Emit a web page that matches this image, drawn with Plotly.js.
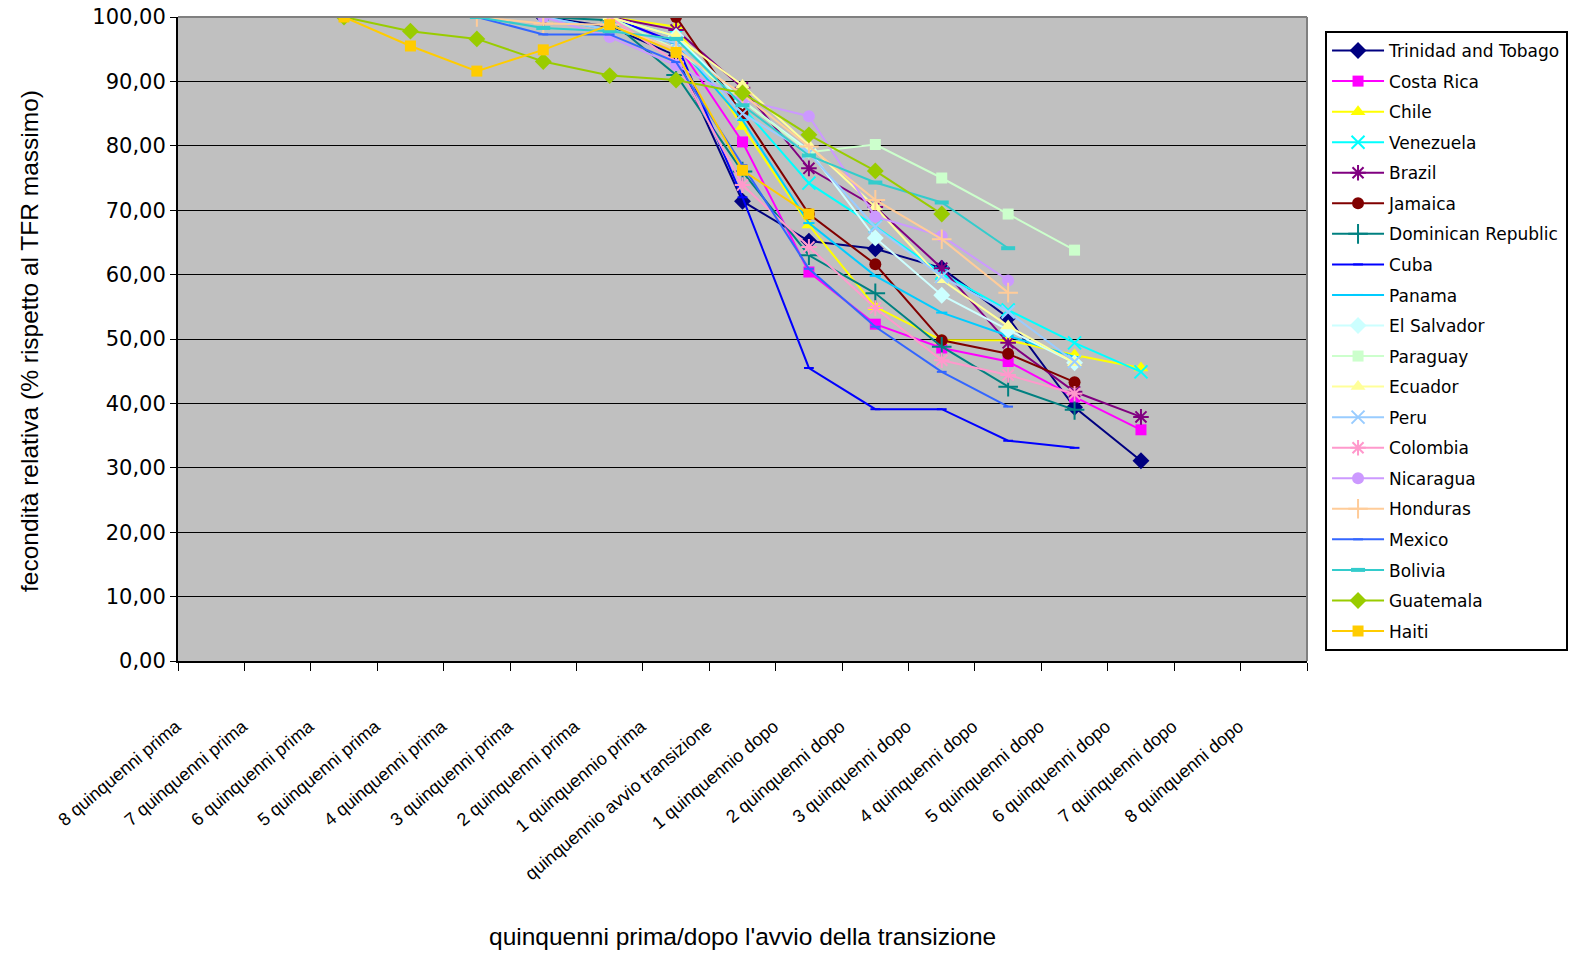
<!DOCTYPE html>
<html>
<head>
<meta charset="utf-8">
<script src="https://cdn.plot.ly/plotly-3.0.1.min.js"></script>
<style>html,body{margin:0;padding:0;background:#fff;}#chart{width:1572px;height:954px;}</style>
</head>
<body>
<div id="chart"></div>
<script>
const categories = ["8 quinquenni prima","7 quinquenni prima","6 quinquenni prima","5 quinquenni prima","4 quinquenni prima","3 quinquenni prima","2 quinquenni prima","1 quinquennio prima","quinquennio avvio transizione","1 quinquennio dopo","2 quinquenni dopo","3 quinquenni dopo","4 quinquenni dopo","5 quinquenni dopo","6 quinquenni dopo","7 quinquenni dopo","8 quinquenni dopo"];
const N = null;
const trinidad   = [N,N,N,N,N,100,98.5,94,71.4,65.2,64.0,61.0,53.3,39.4,31.1,N,N];
const costaRica  = [N,N,N,N,N,N,100,96,80.6,60.4,52.3,48.6,46.5,41.0,35.9,N,N];
const chile      = [N,N,N,N,N,N,100,98.5,83.0,67.7,55.0,49.8,49.8,47.5,45.5,N,N];
const venezuela  = [N,N,N,N,N,N,100,97,86,74.2,67.5,60.2,54.5,49.4,44.9,N,N];
const brazil     = [N,N,N,N,N,N,100,98,89,76.5,70.5,61.0,49.4,41.8,37.9,N,N];
const jamaica    = [N,N,N,N,N,N,N,100,85,69.4,61.6,49.8,47.7,43.3,N,N,N];
const dominican  = [N,N,N,N,N,100,99.5,91,76,63.0,57.1,48.8,42.6,39.0,N,N,N];
const cuba       = [N,N,N,N,N,N,100,96,72,45.5,39.1,39.1,34.2,33.1,N,N,N];
const panama     = [N,N,N,N,N,100,98,96,84,68,59.8,54.1,50.5,47.2,N,N,N];
const elSalvador = [N,N,N,N,N,N,100,97,87,79.3,65.7,56.8,51.4,46.3,N,N,N];
const paraguay   = [N,N,N,N,N,N,100,95,87,79,80.2,75.0,69.4,63.8,N,N,N];
const ecuador    = [N,N,N,N,N,N,100,97,89.4,80.1,70.5,59.2,52.0,46.3,N,N,N];
const peru       = [N,N,N,N,N,100,98,96,85,78.9,67.4,59.7,54.2,46.5,N,N,N];
const colombia   = [N,N,N,N,N,N,100,93,73.9,64.3,54.8,46.7,44.4,41.5,N,N,N];
const nicaragua  = [N,N,N,N,N,100,96.9,92.5,87.1,84.6,69.0,66.0,59.1,N,N,N,N];
const honduras   = [N,N,N,N,100,99,98.8,95,88,79.9,71.6,65.5,57.2,N,N,N,N];
const mexico     = [N,N,N,N,100,97.3,97.3,93,77,60.9,51.9,44.9,39.5,N,N,N,N];
const bolivia    = [N,N,N,N,100,98.3,97.8,96.6,86.3,78.5,74.3,71.2,64.1,N,N,N,N];
const guatemala  = [N,N,100,97.8,96.6,93.1,90.9,90.2,88.2,81.7,76.1,69.4,N,N,N,N,N];
const haiti      = [N,N,100,95.5,91.6,94.9,98.8,94.5,76.2,69.4,N,N,N,N,N,N,N];

const seriesDefs = [
  ["Trinidad and Tobago", trinidad, "#000080", "diamond", 13, 0],
  ["Costa Rica", costaRica, "#FF00FF", "square", 11, 0],
  ["Chile", chile, "#FFFF00", "triangle-up", 13, 0],
  ["Venezuela", venezuela, "#00FFFF", "x-thin-open", 13, 2],
  ["Brazil", brazil, "#800080", "asterisk-open", 13, 2],
  ["Jamaica", jamaica, "#800000", "circle", 12, 0],
  ["Dominican Republic", dominican, "#008080", "cross-thin-open", 14, 2],
  ["Cuba", cuba, "#0000FF", "line-ew-open", 7, 2],
  ["Panama", panama, "#00CCFF", "line-ew-open", 8, 2],
  ["El Salvador", elSalvador, "#CCFFFF", "diamond", 13, 0],
  ["Paraguay", paraguay, "#CCFFCC", "square", 11, 0],
  ["Ecuador", ecuador, "#FFFF99", "triangle-up", 13, 0],
  ["Peru", peru, "#99CCFF", "x-thin-open", 13, 2],
  ["Colombia", colombia, "#FF99CC", "asterisk-open", 13, 2],
  ["Nicaragua", nicaragua, "#CC99FF", "circle", 12, 0],
  ["Honduras", honduras, "#FFCC99", "cross-thin-open", 14, 2],
  ["Mexico", mexico, "#3366FF", "line-ew-open", 7, 2],
  ["Bolivia", bolivia, "#33CCCC", "line-ew-open", 10, 4],
  ["Guatemala", guatemala, "#99CC00", "diamond", 13, 0],
  ["Haiti", haiti, "#FFCC00", "square", 11, 0]
];

const traces = seriesDefs.map(function(d){
  const m = {symbol: d[3], size: d[4], color: d[2]};
  if (d[5] > 0) { m.line = {width: d[5], color: d[2]}; }
  return {
    type: "scatter", mode: "lines+markers", name: d[0], legendgroup: d[0],
    x: categories, y: d[1], connectgaps: false,
    line: {color: d[2], width: 2},
    marker: m
  };
});

const layout = {
  width: 1572, height: 954,
  margin: {l: 178, r: 265, t: 17, b: 293},
  paper_bgcolor: "#FFFFFF",
  plot_bgcolor: "#C0C0C0",
  separators: ",.",
  showlegend: true,
  font: {family: "DejaVu Sans", color: "#000"},
  xaxis: {
    type: "category", categoryorder: "array", categoryarray: categories,
    range: [-0.5, 16.5], tickson: "boundaries", ticks: "outside", ticklen: 8,
    tickcolor: "#000", tickwidth: 1, showgrid: false, zeroline: false,
    showline: true, linecolor: "#000", linewidth: 2,
    tickangle: -40, tickfont: {family: "Liberation Sans", size: 18, color: "#000"},
    ticklabelstandoff: 46, ticklabelshift: -35, fixedrange: true
  },
  yaxis: {
    range: [0, 100], dtick: 10, tick0: 0, tickformat: ".2f",
    ticks: "outside", ticklen: 6, tickcolor: "#000",
    showgrid: true, gridcolor: "#000", gridwidth: 1, zeroline: false,
    showline: true, linecolor: "#000", linewidth: 2,
    tickfont: {family: "DejaVu Sans", size: 21, color: "#000"}, fixedrange: true
  },
  legend: {
    xref: "container", yref: "container",
    x: 0.8429, y: 0.9675, xanchor: "left", yanchor: "top",
    maxheight: 900,
    bgcolor: "#FFFFFF", bordercolor: "#000", borderwidth: 2,
    font: {family: "DejaVu Sans", size: 17, color: "#000"},
    traceorder: "grouped", tracegroupgap: 5.45, itemwidth: 52
  },
  shapes: [
    {type: "line", xref: "paper", yref: "paper", x0: 0, x1: 1, y0: 1, y1: 1, line: {color: "#808080", width: 2}, layer: "above"},
    {type: "line", xref: "paper", yref: "paper", x0: 1, x1: 1, y0: 0, y1: 1, line: {color: "#808080", width: 2}, layer: "above"}
  ],
  annotations: [
    {text: "quinquenni prima/dopo l'avvio della transizione", xref: "paper", yref: "paper", x: 0.5, y: -0.428, xanchor: "center", yanchor: "middle", showarrow: false, font: {family: "Liberation Sans", size: 24.5, color: "#000"}},
    {text: "fecondità relativa (% rispetto al TFR massimo)", xref: "paper", yref: "paper", x: -0.131, y: 0.497, xanchor: "center", yanchor: "middle", textangle: -90, showarrow: false, font: {family: "Liberation Sans", size: 24.5, color: "#000"}}
  ]
};

Plotly.newPlot("chart", traces, layout, {displayModeBar: false, staticPlot: true});
</script>
</body>
</html>
